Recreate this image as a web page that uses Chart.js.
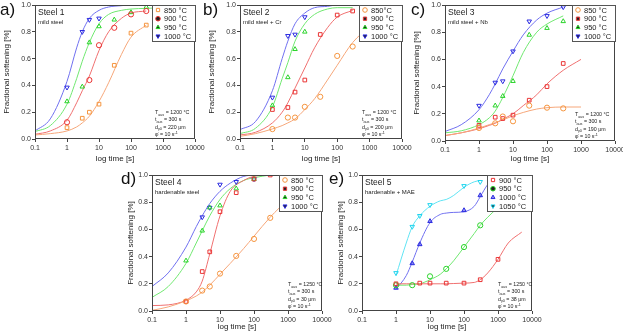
<!DOCTYPE html>
<html>
<head>
<meta charset="utf-8">
<script src="https://cdn.jsdelivr.net/npm/chart.js"></script>
<style>
  body { margin: 0; background: #fff; }
  #wrap { position: relative; width: 623px; height: 333px; overflow: hidden; background: #fff; font-family: Arial, "Liberation Sans", sans-serif; }
  canvas { position: absolute; }
  .lbl { position: absolute; font-size: 17px; line-height: 1; color: #111; z-index: 5; }
</style>
</head>
<body>
<div id="wrap">
  <canvas id="ca" width="207" height="165" style="left:0;top:0"></canvas>
  <canvas id="cb" width="209" height="165" style="left:205px;top:0"></canvas>
  <canvas id="cc" width="213" height="165" style="left:410px;top:0"></canvas>
  <canvas id="cd" width="210" height="168" style="left:124px;top:165px"></canvas>
  <canvas id="ce" width="210" height="168" style="left:334px;top:165px"></canvas>
  <div class="lbl" style="left:0;top:1px">a)</div>
  <div class="lbl" style="left:203px;top:1px">b)</div>
  <div class="lbl" style="left:411px;top:1px">c)</div>
  <div class="lbl" style="left:121px;top:170px">d)</div>
  <div class="lbl" style="left:329px;top:170px">e)</div>
</div>
<script>
// measured times [s] and grid used for the fitted curves
const TIMES = [1, 3, 5, 10, 30, 100, 300];
const GRID = [0.1, 0.3, 1, 2, 3, 5, 10, 20, 50, 100, 300, 1000];
const TIMES5 = [1, 3, 5, 10, 30, 100, 300, 1000];
const GRID5 = [1, 2, 3, 5, 10, 20, 30, 50, 100, 200, 300, 500, 1000, 2000, 5000];
const XTICKS = [0.1, 1, 10, 100, 1000, 10000];
const YTICKS = [0, 0.2, 0.4, 0.6, 0.8, 1.0];

// Steel 1 - mild steel
const s1_850 = [0.085, 0.155, 0.20, 0.26, 0.55, 0.79, 0.85];
const s1_900 = [0.125, null, 0.44, 0.70, 0.83, 0.93, 0.955];
const s1_950 = [0.28, 0.39, 0.72, 0.84, 0.89, 0.945, 0.985];
const s1_1000 = [0.385, 0.80, 0.89, 0.90, null, null, null];
const f1_850 = [0.03, 0.04, 0.06, 0.09, 0.12, 0.17, 0.28, 0.42, 0.63, 0.76, 0.85, null];
const f1_900 = [0.035, 0.06, 0.14, 0.27, 0.36, 0.47, 0.66, 0.80, 0.90, 0.94, 0.955, null];
const f1_950 = [0.055, 0.10, 0.26, 0.45, 0.58, 0.72, 0.86, 0.93, 0.96, 0.97, 0.975, 0.98];
const f1_1000 = [0.06, 0.15, 0.43, 0.68, 0.80, 0.90, 0.96, 0.985, 0.995, 1.0, 1.0, 1.0];

// Steel 2 - mild steel + Cr
const s2_850 = [0.074, 0.16, 0.16, 0.24, 0.315, 0.62, 0.69];
const s2_900 = [0.22, 0.235, 0.35, 0.44, 0.78, 0.925, 0.955];
const s2_950 = [0.25, 0.46, 0.67, 0.80, null, null, null];
const s2_1000 = [0.31, 0.77, 0.78, 0.91, null, null, null];
const f2_850 = [0.02, 0.04, 0.075, 0.10, 0.12, 0.15, 0.22, 0.30, 0.44, 0.55, 0.72, 0.84];
const f2_900 = [0.03, 0.05, 0.12, 0.20, 0.27, 0.38, 0.53, 0.68, 0.83, 0.91, 0.96, null];
const f2_950 = [0.04, 0.08, 0.24, 0.45, 0.57, 0.73, 0.86, 0.93, 0.97, 0.98, 0.98, null];
const f2_1000 = [0.07, 0.13, 0.36, 0.60, 0.73, 0.86, 0.94, 0.98, 0.99, 1.0, 1.0, null];

// Steel 3 - mild steel + Nb
const s3_850 = [0.096, 0.13, 0.18, 0.145, 0.26, 0.245, 0.24];
const s3_900 = [0.115, 0.175, 0.165, 0.19, 0.30, 0.40, 0.57];
const s3_950 = [0.15, 0.26, 0.33, 0.44, 0.78, 0.83, 0.88];
const s3_1000 = [0.26, 0.43, 0.44, 0.66, 0.88, 0.92, 0.985];
const f3_850 = [0.04, 0.06, 0.095, 0.12, 0.135, 0.155, 0.185, 0.21, 0.235, 0.245, 0.25, 0.25];
const f3_900 = [0.04, 0.06, 0.09, 0.115, 0.13, 0.16, 0.20, 0.26, 0.34, 0.42, 0.52, 0.60];
const f3_950 = [0.06, 0.075, 0.12, 0.17, 0.22, 0.32, 0.48, 0.65, 0.80, 0.86, 0.92, null];
const f3_1000 = [0.07, 0.12, 0.23, 0.34, 0.42, 0.53, 0.66, 0.78, 0.89, 0.94, 0.985, null];

// Steel 4 - hardenable steel
const s4_850 = [0.07, 0.15, 0.18, 0.275, 0.405, 0.53, 0.685];
const s4_900 = [0.07, 0.29, 0.435, 0.73, 0.87, 0.97, 1.0];
const s4_950 = [0.37, 0.59, 0.76, 0.775, 0.90, 0.97, null];
const s4_1000 = [null, 0.69, 0.76, 0.93, 0.95, 0.97, null];
const f4_850 = [0.005, 0.03, 0.075, 0.11, 0.14, 0.19, 0.27, 0.35, 0.46, 0.55, 0.69, 0.82];
const f4_900 = [0.04, 0.045, 0.08, 0.14, 0.22, 0.42, 0.70, 0.88, 0.96, 0.99, 1.0, null];
const f4_950 = [0.10, 0.18, 0.35, 0.50, 0.59, 0.70, 0.82, 0.90, 0.96, 0.98, 1.0, null];
const f4_1000 = [0.18, 0.28, 0.47, 0.62, 0.70, 0.79, 0.88, 0.94, 0.99, 1.0, null, null];

// Steel 5 - hardenable + MAE
const s5_900 = [0.20, null, 0.205, 0.205, 0.205, 0.205, 0.23, 0.38];
const s5_950 = [0.19, 0.19, null, 0.255, 0.31, 0.47, 0.63, null];
const s5_1000 = [0.17, 0.35, 0.49, 0.66, null, 0.74, 0.85, null];
const s5_1050 = [0.28, 0.62, 0.70, 0.78, null, 0.92, 0.95, null];
const f5_900 = [0.20, 0.20, 0.20, 0.20, 0.20, 0.20, 0.20, 0.202, 0.205, 0.21, 0.23, 0.28, 0.38, 0.50, 0.58];
const f5_950 = [0.19, 0.19, 0.195, 0.20, 0.23, 0.27, 0.31, 0.37, 0.47, 0.57, 0.63, 0.69, 0.76, 0.82, null];
const f5_1000 = [0.16, 0.26, 0.36, 0.50, 0.65, 0.71, 0.72, 0.725, 0.73, 0.77, 0.84, 0.93, 0.98, null, null];
const f5_1050 = [0.26, 0.50, 0.62, 0.70, 0.77, 0.81, 0.82, 0.85, 0.91, 0.95, 0.96, null, null, null, null];

const ORANGE = ['#f5953f', '#f6a77a'];
const RED = ['#ea3535', '#f07070'];
const GREEN = ['#2bd42b', '#70e870'];
const BLUE = ['#2c2ce0', '#7070f0'];
const CYAN = ['#20d4ee', '#60e4f4'];
const FONT = 'Arial, "Liberation Sans", sans-serif';

function drawMark(ctx, s, x, y, r) {
  ctx.save();
  ctx.strokeStyle = s.c[0];
  ctx.fillStyle = s.fill || 'rgba(255,255,255,0)';
  ctx.lineWidth = 1;
  Chart.helpers.drawPoint(ctx, { pointStyle: s.style, rotation: s.rot || 0, radius: r, borderWidth: 1 }, x, y);
  ctx.restore();
}

function drawParts(ctx, x, y, parts, size) {
  for (const [t, k] of parts) {
    const sz = k === 'n' ? size : size * 0.7;
    const dy = k === 'sub' ? size * 0.3 : (k === 'sup' ? -size * 0.4 : 0);
    ctx.font = sz + 'px ' + FONT;
    ctx.fillText(t, x, y + dy);
    x += ctx.measureText(t).width;
  }
}

const decor = {
  id: 'decor',
  afterDraw(chart, args, o) {
    const { ctx, chartArea: a } = chart;
    ctx.save();
    ctx.strokeStyle = '#444';
    ctx.lineWidth = 1;
    ctx.strokeRect(Math.round(a.left) + 0.5, Math.round(a.top) + 0.5, Math.round(a.right - a.left) - 1, Math.round(a.bottom - a.top) - 1);

    ctx.fillStyle = '#222';
    ctx.textBaseline = 'alphabetic';
    ctx.font = '8.5px ' + FONT;
    ctx.fillText(o.steel, a.left + 3, a.top + 10);
    ctx.font = '6px ' + FONT;
    ctx.fillText(o.kind, a.left + 3, a.top + 19);

    const cx = a.right - o.condX;
    const fs = 5.3;
    drawParts(ctx, cx, a.bottom - 25, [['T', 'n'], ['aus', 'sub'], [' = ' + o.T + ' °C', 'n']], fs);
    drawParts(ctx, cx, a.bottom - 18, [['t', 'n'], ['aus', 'sub'], [' = 300 s', 'n']], fs);
    drawParts(ctx, cx, a.bottom - 10.5, [['d', 'n'], ['γ0', 'sub'], [' = ' + o.d + ' μm', 'n']], fs);
    drawParts(ctx, cx, a.bottom - 3, [['φ̇', 'n'], [' = 10 s', 'n'], ['-1', 'sup']], fs);

    // legend box
    const W = o.legW, H = 36;
    const lx = a.right - W, ly = a.top;
    ctx.fillStyle = '#fff';
    ctx.fillRect(lx, ly, W, H);
    ctx.strokeStyle = '#555';
    ctx.strokeRect(Math.round(lx) + 0.5, Math.round(ly) + 0.5, W, H);
    o.series.forEach((s, i) => {
      const yy = ly + 5 + i * 8.7;
      drawMark(ctx, s, lx + 6, yy, 2.3);
      ctx.fillStyle = '#222';
      ctx.font = '7.5px ' + FONT;
      ctx.textBaseline = 'middle';
      ctx.fillText(s.label, lx + 12, yy + 0.5);
    });
    ctx.restore();
  }
};

function makePanel(id, cfg) {
  const datasets = [];
  cfg.series.forEach(s => {
    datasets.push({
      data: cfg.times.map((t, i) => ({ x: t, y: s.pts[i] })).filter(p => p.y !== null),
      showLine: false,
      pointStyle: s.style,
      rotation: s.rot || 0,
      pointRadius: 2.6,
      pointBorderWidth: 1,
      borderColor: s.c[0],
      backgroundColor: s.fill || 'rgba(255,255,255,0)',
      order: 0
    });
    datasets.push({
      data: cfg.grid.map((t, i) => ({ x: t, y: s.fit[i] })),
      showLine: true,
      pointRadius: 0,
      borderWidth: 1,
      borderColor: s.c[1],
      backgroundColor: s.c[1],
      cubicInterpolationMode: 'monotone',
      spanGaps: false,
      order: 1
    });
  });
  const tickFont = { size: 7, family: FONT };
  const titleFont = { size: 8, family: FONT };
  new Chart(document.getElementById(id), {
    type: 'scatter',
    data: { datasets },
    options: {
      responsive: false,
      animation: false,
      devicePixelRatio: 1,
      layout: { padding: { top: cfg.top, right: cfg.right, left: 0, bottom: 0 } },
      plugins: {
        legend: { display: false },
        tooltip: { enabled: false },
        decor: cfg
      },
      scales: {
        x: {
          type: 'logarithmic', min: 0.1, max: 10000,
          afterBuildTicks: s => { s.ticks = XTICKS.map(v => ({ value: v })); },
          afterFit: s => { s.height = cfg.xh; s.paddingLeft = 0; s.paddingRight = 0; },
          ticks: { callback: v => String(v), font: tickFont, color: '#333', padding: 2, maxRotation: 0, autoSkip: false },
          grid: { drawOnChartArea: false, tickLength: 3, color: '#444' },
          border: { display: false },
          title: { display: true, text: 'log time [s]', font: titleFont, color: '#222', padding: { top: 0, bottom: 1 } }
        },
        y: {
          min: 0, max: 1,
          afterBuildTicks: s => { s.ticks = YTICKS.map(v => ({ value: v })); },
          afterFit: s => { s.width = cfg.yw; s.paddingTop = 0; s.paddingBottom = 0; },
          ticks: { callback: v => v.toFixed(1), font: tickFont, color: '#333', padding: 1 },
          grid: { drawOnChartArea: false, tickLength: 3, color: '#444' },
          border: { display: false },
          title: { display: true, text: 'Fractional softening [%]', font: titleFont, color: '#222', padding: { top: 2, bottom: 2 } }
        }
      }
    },
    plugins: [decor]
  });
}

makePanel('ca', {
  steel: 'Steel 1', kind: 'mild steel', T: '1200', d: '220', condX: 40, legW: 43,
  top: 4, right: 12, yw: 35, xh: 26, times: TIMES, grid: GRID,
  series: [
    { label: '850 °C', pts: s1_850, fit: f1_850, c: ORANGE, style: 'rect' },
    { label: '900 °C', pts: s1_900, fit: f1_900, c: RED, style: 'circle' },
    { label: '950 °C', pts: s1_950, fit: f1_950, c: GREEN, style: 'triangle' },
    { label: '1000 °C', pts: s1_1000, fit: f1_1000, c: BLUE, style: 'triangle', rot: 180 }
  ]
});

makePanel('cb', {
  steel: 'Steel 2', kind: 'mild steel + Cr', T: '1200', d: '200', condX: 40, legW: 43,
  top: 4, right: 12, yw: 35, xh: 26, times: TIMES, grid: GRID,
  series: [
    { label: '850°C', pts: s2_850, fit: f2_850, c: ORANGE, style: 'circle' },
    { label: '900 °C', pts: s2_900, fit: f2_900, c: RED, style: 'rect' },
    { label: '950 °C', pts: s2_950, fit: f2_950, c: GREEN, style: 'triangle' },
    { label: '1000 °C', pts: s2_1000, fit: f2_1000, c: BLUE, style: 'triangle', rot: 180 }
  ]
});

makePanel('cc', {
  steel: 'Steel 3', kind: 'mild steel + Nb', T: '1200', d: '190', condX: 40, legW: 43,
  top: 5, right: 8, yw: 35, xh: 24, times: TIMES, grid: GRID,
  series: [
    { label: '850 °C', pts: s3_850, fit: f3_850, c: ORANGE, style: 'circle' },
    { label: '900 °C', pts: s3_900, fit: f3_900, c: RED, style: 'rect' },
    { label: '950 °C', pts: s3_950, fit: f3_950, c: GREEN, style: 'triangle' },
    { label: '1000 °C', pts: s3_1000, fit: f3_1000, c: BLUE, style: 'triangle', rot: 180 }
  ]
});

makePanel('cd', {
  steel: 'Steel 4', kind: 'hardenable steel', T: '1250', d: '30', condX: 34, legW: 43,
  top: 10, right: 12, yw: 28, xh: 22, times: TIMES, grid: GRID,
  series: [
    { label: '850 °C', pts: s4_850, fit: f4_850, c: ORANGE, style: 'circle' },
    { label: '900 °C', pts: s4_900, fit: f4_900, c: RED, style: 'rect' },
    { label: '950 °C', pts: s4_950, fit: f4_950, c: GREEN, style: 'triangle' },
    { label: '1000 °C', pts: s4_1000, fit: f4_1000, c: BLUE, style: 'triangle', rot: 180 }
  ]
});

makePanel('ce', {
  steel: 'Steel 5', kind: 'hardenable + MAE', T: '1250', d: '38', condX: 34, legW: 45,
  top: 10, right: 12, yw: 28, xh: 22, times: TIMES5, grid: GRID5,
  series: [
    { label: '900 °C', pts: s5_900, fit: f5_900, c: RED, style: 'rect' },
    { label: '950 °C', pts: s5_950, fit: f5_950, c: GREEN, style: 'circle' },
    { label: '1000 °C', pts: s5_1000, fit: f5_1000, c: BLUE, style: 'triangle', fill: 'rgba(60,60,230,0.55)' },
    { label: '1050 °C', pts: s5_1050, fit: f5_1050, c: CYAN, style: 'triangle', rot: 180 }
  ]
});
</script>
</body>
</html>
